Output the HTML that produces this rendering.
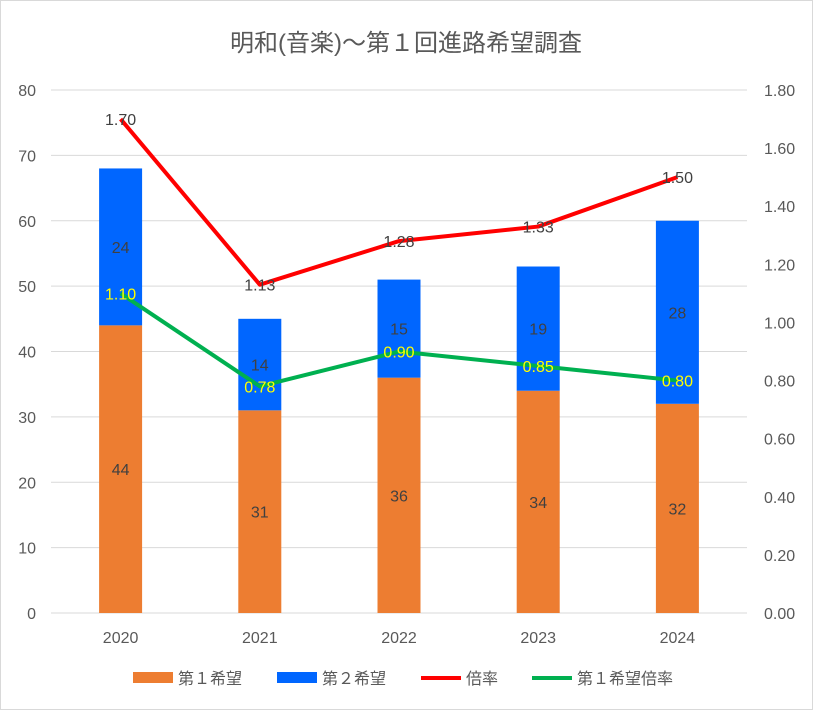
<!DOCTYPE html>
<html><head><meta charset="utf-8">
<style>
html,body{margin:0;padding:0;background:#fff;}
svg{display:block;font-family:"Liberation Sans","Noto Sans CJK JP",sans-serif;}
</style></head>
<body>
<svg id="chart" width="813" height="710">
<rect x="0.5" y="0.5" width="812" height="709" fill="#fff" stroke="#d9d9d9"/>
<text x="406" y="51" text-anchor="middle" font-size="24" fill="#595959">明和(音楽)～第１回進路希望調査</text>
<g id="grid"></g><g id="bars"></g><g id="lines"></g><g id="labels"></g>
<g font-size="16" fill="#595959">
<rect x="133" y="672" width="40" height="11" fill="#ed7d31"/>
<text x="178" y="684">第１希望</text>
<rect x="277" y="672" width="40" height="11" fill="#0066ff"/>
<text x="322" y="684">第２希望</text>
<line x1="421" y1="678" x2="461" y2="678" stroke="#ff0000" stroke-width="4"/>
<text x="466" y="684">倍率</text>
<line x1="532" y1="678" x2="572" y2="678" stroke="#00b050" stroke-width="4"/>
<text x="577" y="684">第１希望倍率</text>
</g>
</svg>
<script>
const categories=["2020","2021","2022","2023","2024"];
const first=[44,31,36,34,32];
const second=[24,14,15,19,28];
const ratio=[1.70,1.13,1.28,1.33,1.50];
const firstRatio=[1.10,0.78,0.90,0.85,0.80];
const leftTicks=[0,10,20,30,40,50,60,70,80];
const rightTicks=[0,0.2,0.4,0.6,0.8,1.0,1.2,1.4,1.6,1.8];
const NS="http://www.w3.org/2000/svg";
const y0=613,y1=90,xL=51,xR=747;
const yL=v=>y0-(v/80)*(y0-y1);
const yR=v=>y0-(v/1.8)*(y0-y1);
const step=(xR-xL)/categories.length;
const xC=i=>xL+step*(i+0.5);
const bw=43;
function mk(tag,attrs,parent,txt){const e=document.createElementNS(NS,tag);for(const k in attrs)e.setAttribute(k,attrs[k]);if(txt!==undefined)e.textContent=txt;document.getElementById(parent).appendChild(e);return e;}
leftTicks.forEach(t=>{
 const l=mk('line',{x1:xL,x2:xR,y1:yL(t),y2:yL(t),stroke:'#d9d9d9','stroke-width':1},'grid');
 
 
 const tx=mk('text',{x:36,y:yL(t)+6,'text-anchor':'end','font-size':16,fill:'#595959'},'grid',t);
 
 
});
rightTicks.forEach(t=>{
 const tx=mk('text',{x:764,y:yR(t)+6,'font-size':16,fill:'#595959'},'grid',t.toFixed(2));
 
 
});
categories.forEach((c,i)=>{
 const x=xC(i);
 const tx=mk('text',{x:x,y:643,'text-anchor':'middle','font-size':16,fill:'#595959'},'grid',c);
 
 
 const b1=mk('rect',{x:x-bw/2,y:yL(first[i]),width:bw,height:y0-yL(first[i]),fill:'#ed7d31'},'bars');
 
 
 const top=first[i]+second[i];
 const b2=mk('rect',{x:x-bw/2,y:yL(top),width:bw,height:yL(first[i])-yL(top),fill:'#0066ff'},'bars');
 
 
 const l1=mk('text',{x:x,y:yL(first[i]/2)+6,'text-anchor':'middle','font-size':16,fill:'#404040'},'labels',first[i]);
 
 
 const l2=mk('text',{x:x,y:yL(first[i]+second[i]/2)+6,'text-anchor':'middle','font-size':16,fill:'#404040'},'labels',second[i]);
 
 
 const l3=mk('text',{x:x,y:yR(ratio[i])+6,'text-anchor':'middle','font-size':16,fill:'#404040'},'labels',ratio[i].toFixed(2));
 
 
 const l4=mk('text',{x:x,y:yR(firstRatio[i])+6,'text-anchor':'middle','font-size':16,fill:'#ffff00'},'labels',firstRatio[i].toFixed(2));
 
 
});
const base=mk('line',{x1:xL,x2:xR,y1:y0,y2:y0,stroke:'#d9d9d9'},'grid');


const p1=mk('polyline',{points:ratio.map((v,i)=>xC(i)+','+yR(v)).join(' '),fill:'none',stroke:'#ff0000','stroke-width':4,'stroke-linejoin':'round'},'lines');


const p2=mk('polyline',{points:firstRatio.map((v,i)=>xC(i)+','+yR(v)).join(' '),fill:'none',stroke:'#00b050','stroke-width':4,'stroke-linejoin':'round'},'lines');


</script>
</body></html>
